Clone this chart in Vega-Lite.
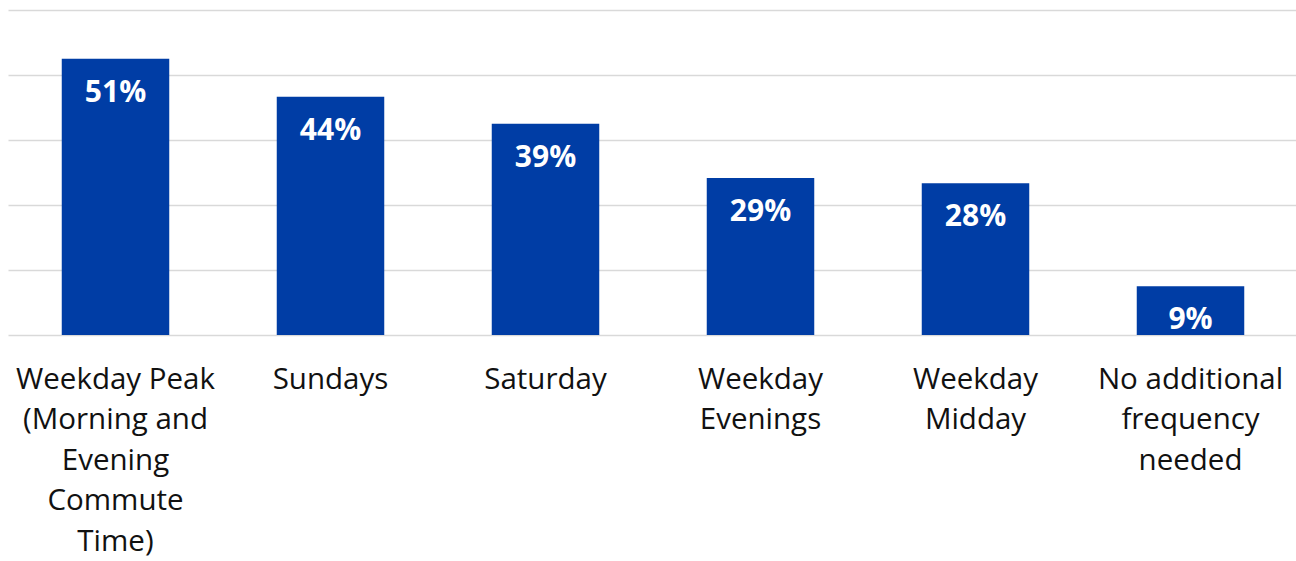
{
  "$schema": "https://vega.github.io/schema/vega-lite/v6.json",
  "width": 1290,
  "height": 325,
  "autosize": {"type": "none"},
  "padding": {"left": 8, "top": 10, "right": 0, "bottom": 226},
  "background": "white",
  "config": {"view": {"stroke": null}, "font": "Open Sans"},
  "data": {
    "values": [
      {"category": "Weekday Peak|(Morning and|Evening|Commute|Time)", "value": 51, "label": "51%"},
      {"category": "Sundays", "value": 44, "label": "44%"},
      {"category": "Saturday", "value": 39, "label": "39%"},
      {"category": "Weekday|Evenings", "value": 29, "label": "29%"},
      {"category": "Weekday|Midday", "value": 28, "label": "28%"},
      {"category": "No additional|frequency|needed", "value": 9, "label": "9%"}
    ]
  },
  "encoding": {
    "x": {
      "field": "category",
      "type": "nominal",
      "sort": null,
      "scale": {"paddingInner": 0.5, "paddingOuter": 0.25},
      "axis": {
        "title": null,
        "labelExpr": "split(datum.label, '|')",
        "labelAngle": 0,
        "labelFont": "Open Sans",
        "labelFontSize": 29.5,
        "labelColor": "#111111",
        "labelLineHeight": 40.5,
        "labelPadding": 30,
        "labelBaseline": "top",
        "ticks": false,
        "domain": false,
        "labelLimit": 0
      }
    },
    "y": {
      "field": "value",
      "type": "quantitative",
      "scale": {"domain": [0, 60], "nice": false},
      "axis": {
        "title": null,
        "values": [0, 12, 24, 36, 48, 60],
        "labels": false,
        "ticks": false,
        "domain": false,
        "grid": true,
        "gridColor": "#D9D9D9",
        "gridWidth": 1.5
      }
    }
  },
  "layer": [
    {"mark": {"type": "bar", "color": "#003DA5"}},
    {
      "mark": {"type": "text", "color": "white", "font": "Open Sans", "fontWeight": "bold", "fontSize": 30, "baseline": "middle", "dy": 34},
      "encoding": {"text": {"field": "label"}}
    }
  ]
}
